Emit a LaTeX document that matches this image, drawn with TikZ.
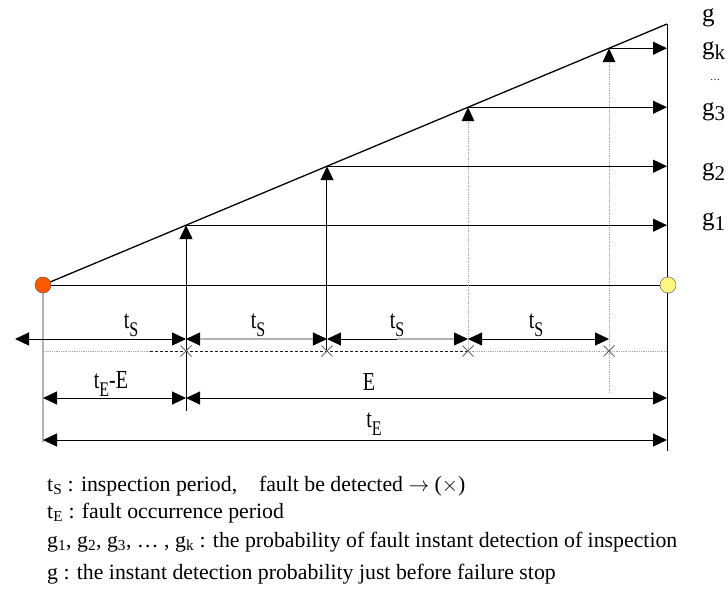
\documentclass[tikz,border=0pt]{standalone}
\usepackage{fontspec}
\usepackage{graphicx}
\setmainfont{Liberation Serif}
\usetikzlibrary{arrows.meta,calc}
\newcommand{\lsub}[1]{\raisebox{-6pt}{\fontsize{16}{16}\selectfont #1}}
\newcommand{\gsub}[1]{\raisebox{-5pt}{\fontsize{21}{21}\selectfont #1}}
\newcommand{\tall}[1]{\scalebox{1}[1.3]{#1}}
\begin{document}
\begin{tikzpicture}[x=1pt,y=-1pt,
  tip/.style={-{Triangle[length=14pt,width=13pt]}},
  dtip/.style={{Triangle[length=14pt,width=13pt]}-{Triangle[length=14pt,width=13pt]}},
  ln/.style={line width=1pt,black},
  dot/.style={gray!70,densely dotted,line width=0.8pt},
  lab/.style={font=\fontsize{20}{22}\selectfont,inner sep=0pt},
  glab/.style={font=\fontsize{25}{27}\selectfont,inner sep=0pt,anchor=west},
  txt/.style={font=\fontsize{21.8}{24}\selectfont,inner sep=0pt,anchor=base west},
  cross/.style={gray!80!black,line width=0.9pt}]
\useasboundingbox (0,0) rectangle (728,592);
% main frame points
\coordinate (O) at (43,285);
\coordinate (T) at (667,24);
\coordinate (Rb) at (667,451);
\coordinate (Lb) at (43,442);
\coordinate (Y) at (668,285);
% inspection points on the slope
\coordinate (P1) at ($(O)!0.2292!(T)$);
\coordinate (P2) at ($(O)!0.4551!(T)$);
\coordinate (P3) at ($(O)!0.6811!(T)$);
\coordinate (P4) at ($(O)!0.9071!(T)$);
% levels
\coordinate (Dl) at (43,351);  % dotted line
\coordinate (Al) at (15,339);  % ts arrows
\coordinate (E1) at (43,398);
\coordinate (E2) at (43,440);
% ground points
\coordinate (X1) at (P1 |- Dl);
\coordinate (X2) at (P2 |- Dl);
\coordinate (X3) at (P3 |- Dl);
\coordinate (X4) at (P4 |- Dl);
% slope, right edge, left edge, base
\draw[line width=1.3pt] (O) -- (T);
\draw[ln] (T) -- (Rb);
\draw[gray!60,line width=1.3pt] (O) -- (Lb);
\draw[ln] (O) -- (Y);
% dotted line
\draw[dot] (Dl) -- (Dl -| 150,0);
\draw[gray!20!black,dashed,dash pattern=on 3pt off 2pt,line width=0.8pt] (Dl -| 150,0) -- (X3);
\draw[dot] (X3) -- (Dl -| T);
% vertical arrows
\draw[ln,tip] (P1 |- 0,411) -- (P1);
\draw[ln,tip] (X2) -- (P2);
\draw[dot] (X3) -- (P3);
\draw[dot] (P4 |- 0,393) -- (P4);
\fill[black] (P3) -- ++(-6.5,14) -- ++(13,0) -- cycle;
\fill[black] (P4) -- ++(-6.5,14) -- ++(13,0) -- cycle;
% horizontal g arrows
\draw[ln,tip] (P1) -- (P1 -| T);
\draw[ln,tip] (P2) -- (P2 -| T);
\draw[ln,tip] (P3) -- (P3 -| T);
\draw[ln,tip] (P4) -- (P4 -| T);
% circles
\node[circle,draw=gray!60!black,fill=orange!70!red,minimum size=16pt,inner sep=0pt] (red) at (O) {};
\node[circle,draw=gray!60!black,fill=yellow!50,minimum size=16pt,inner sep=0pt] (yel) at (Y) {};
% ts arrows
\draw[ln,dtip] (Al) -- (Al -| P1) coordinate (A1);
\draw[ln,dtip] (A1) -- (Al -| P2) coordinate (A2);
\draw[gray!60,line width=1.2pt] ($(A1)+(14,0)$) -- ($(A2)+(-14,0)$);
\draw[ln,dtip] (A2) -- (Al -| P3) coordinate (A3);
\draw[gray!60,line width=1.2pt] ($(A2)+(70,0)$) -- ($(A3)+(-14,0)$);
\draw[ln,dtip] (A3) -- (Al -| P4) coordinate (A4);
% crosses
\foreach \c in {X1,X2,X3,X4}{
  \draw[cross] ($(\c)+(-5.5,-5.5)$) -- ($(\c)+(5.5,5.5)$) ($(\c)+(-5.5,5.5)$) -- ($(\c)+(5.5,-5.5)$);
}
% E arrows
\draw[ln,dtip] (E1) -- (E1 -| P1) coordinate (EP);
\draw[ln,dtip] (EP) -- (E1 -| T);
\draw[ln,dtip] (E2) -- (E2 -| T);
% ts labels
\node[lab] (ts1) at (131,325) {\tall{t\lsub{S}}};
\node[lab] (ts2) at (258,325) {\tall{t\lsub{S}}};
\node[lab] (ts3) at (397,325) {\tall{t\lsub{S}}};
\node[lab] (ts4) at (536,325) {\tall{t\lsub{S}}};
\node[lab] (teE) at (111,384) {\tall{t\lsub{E}-E}};
\node[lab] (eE) at (369,382) {\tall{E}};
\node[lab] (tE) at (374,424) {\tall{t\lsub{E}}};
% right labels
\node[glab] (g) at (702,18) {g};
\node[glab] (gk) at (702,51) {g\gsub{k}};
\node[glab] (gd) at (710,80) {\fontsize{10}{10}\selectfont\dots};
\node[glab] (g3) at (702,112) {g\gsub{3}};
\node[glab] (g2) at (702,172) {g\gsub{2}};
\node[glab] (g1) at (702,222) {g\gsub{1}};
% legend
\node[txt] (l1) at (47,491) {t\textsubscript{S} : inspection period,\quad fault be detected $\rightarrow$ ($\times$)};
\node[txt] (l2) at (47,518) {t\textsubscript{E} : fault occurrence period};
\node[txt] (l3) at (47,547) {g\textsubscript{1}, g\textsubscript{2}, g\textsubscript{3}, \dots\ , g\textsubscript{k} : the probability of fault instant detection of inspection};
\node[txt] (l4) at (47,579) {g : the instant detection probability just before failure stop};
\end{tikzpicture}
\end{document}
